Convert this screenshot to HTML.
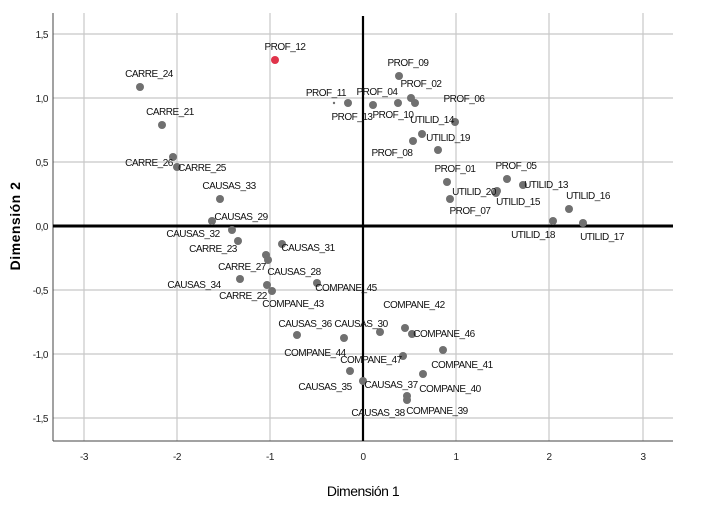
<!DOCTYPE html>
<html><head><meta charset="utf-8"><style>
body{margin:0;background:#fff}
svg text{font-family:"Liberation Sans",sans-serif}
.l{font-size:10px;letter-spacing:-0.5px;fill:#111;text-anchor:middle}
.t{font-size:10px;fill:#222;letter-spacing:-0.5px}
</style></head><body>
<svg width="709" height="516" viewBox="0 0 709 516" xmlns="http://www.w3.org/2000/svg">
<g stroke="#c8c8c8" stroke-width="1.2">
<line x1="84" y1="13" x2="84" y2="441"/><line x1="177" y1="13" x2="177" y2="441"/><line x1="270" y1="13" x2="270" y2="441"/>
<line x1="456" y1="13" x2="456" y2="441"/><line x1="549" y1="13" x2="549" y2="441"/><line x1="643" y1="13" x2="643" y2="441"/>
<line x1="53" y1="34" x2="673" y2="34"/><line x1="53" y1="98" x2="673" y2="98"/><line x1="53" y1="162" x2="673" y2="162"/>
<line x1="53" y1="290" x2="673" y2="290"/><line x1="53" y1="354" x2="673" y2="354"/><line x1="53" y1="418" x2="673" y2="418"/>
</g>
<line x1="53" y1="13" x2="53" y2="441" stroke="#444" stroke-width="1"/>
<line x1="53" y1="441" x2="673" y2="441" stroke="#444" stroke-width="1"/>
<line x1="53" y1="226" x2="673" y2="226" stroke="#000" stroke-width="3"/>
<line x1="363" y1="16" x2="363" y2="441" stroke="#000" stroke-width="2.2"/>
<g class="t" text-anchor="end">
<text x="48" y="38">1,5</text><text x="48" y="102">1,0</text><text x="48" y="166">0,5</text><text x="48" y="230">0,0</text>
<text x="48" y="294">-0,5</text><text x="48" y="358">-1,0</text><text x="48" y="422">-1,5</text>
</g>
<g class="t" text-anchor="middle">
<text x="84" y="460">-3</text><text x="177" y="460">-2</text><text x="270" y="460">-1</text><text x="363" y="460">0</text>
<text x="456" y="460">1</text><text x="549" y="460">2</text><text x="643" y="460">3</text>
</g>
<text x="363" y="496" text-anchor="middle" style="font-size:14px;letter-spacing:-0.5px">Dimensión 1</text>
<text transform="translate(20,226) rotate(-90)" text-anchor="middle" style="font-size:14px;font-weight:bold;letter-spacing:0.5px">Dimensión 2</text>
<g fill="#707070">
<circle cx="140" cy="87" r="4"/><circle cx="162" cy="125" r="4"/><circle cx="173" cy="157" r="4"/><circle cx="177" cy="167" r="4"/>
<circle cx="220" cy="199" r="4"/><circle cx="212" cy="221" r="4"/><circle cx="232" cy="230" r="4"/><circle cx="238" cy="241" r="4"/>
<circle cx="282" cy="244" r="4"/><circle cx="266" cy="255" r="4"/><circle cx="268" cy="260" r="4"/><circle cx="240" cy="279" r="4"/>
<circle cx="267" cy="285" r="4"/><circle cx="272" cy="291" r="4"/><circle cx="317" cy="283" r="4"/><circle cx="297" cy="335" r="4"/>
<circle cx="344" cy="338" r="4"/><circle cx="380" cy="332" r="4"/><circle cx="405" cy="328" r="4"/><circle cx="412" cy="334" r="4"/>
<circle cx="443" cy="350" r="4"/><circle cx="403" cy="356" r="4"/><circle cx="350" cy="371" r="4"/><circle cx="363" cy="381" r="4"/>
<circle cx="423" cy="374" r="4"/><circle cx="407" cy="396" r="4"/><circle cx="407" cy="400" r="4"/>
<circle cx="348" cy="103" r="4"/><circle cx="334" cy="103" r="1.2"/><circle cx="399" cy="76" r="4"/><circle cx="411" cy="98" r="4"/><circle cx="415" cy="103" r="4"/>
<circle cx="373" cy="105" r="4"/><circle cx="398" cy="103" r="4"/><circle cx="455" cy="122" r="4"/><circle cx="422" cy="134" r="4"/>
<circle cx="413" cy="141" r="4"/><circle cx="438" cy="150" r="4"/><circle cx="447" cy="182" r="4"/><circle cx="507" cy="179" r="4"/>
<circle cx="523" cy="185" r="4"/><circle cx="497" cy="191" r="4"/><circle cx="496" cy="193" r="4"/><circle cx="450" cy="199" r="4"/>
<circle cx="569" cy="209" r="4"/><circle cx="553" cy="221" r="4"/><circle cx="583" cy="223" r="4"/>
</g>
<circle cx="275" cy="60" r="4" fill="#e0334a"/>
<g class="l">
<text x="285" y="50">PROF_12</text><text x="149" y="77">CARRE_24</text><text x="170" y="115">CARRE_21</text>
<text x="149" y="166">CARRE_26</text><text x="202" y="171">CARRE_25</text><text x="229" y="189">CAUSAS_33</text>
<text x="241" y="220">CAUSAS_29</text><text x="193" y="237">CAUSAS_32</text><text x="213" y="252">CARRE_23</text>
<text x="308" y="251">CAUSAS_31</text><text x="242" y="270">CARRE_27</text><text x="294" y="275">CAUSAS_28</text>
<text x="194" y="288">CAUSAS_34</text><text x="243" y="299">CARRE_22</text><text x="346" y="291">COMPANE_45</text>
<text x="293" y="307">COMPANE_43</text><text x="414" y="308">COMPANE_42</text><text x="305" y="327">CAUSAS_36</text>
<text x="361" y="327">CAUSAS_30</text><text x="444" y="337">COMPANE_46</text><text x="315" y="356">COMPANE_44</text>
<text x="371" y="363">COMPANE_47</text><text x="462" y="368">COMPANE_41</text><text x="325" y="390">CAUSAS_35</text>
<text x="391" y="388">CAUSAS_37</text><text x="450" y="392">COMPANE_40</text><text x="378" y="416">CAUSAS_38</text>
<text x="437" y="414">COMPANE_39</text>
<text x="326" y="96">PROF_11</text><text x="352" y="120">PROF_13</text><text x="408" y="66">PROF_09</text>
<text x="421" y="87">PROF_02</text><text x="377" y="95">PROF_04</text><text x="393" y="118">PROF_10</text>
<text x="464" y="102">PROF_06</text><text x="432" y="123">UTILID_14</text><text x="448" y="141">UTILID_19</text>
<text x="392" y="156">PROF_08</text><text x="455" y="172">PROF_01</text><text x="516" y="169">PROF_05</text>
<text x="546" y="188">UTILID_13</text><text x="474" y="195">UTILID_20</text><text x="518" y="205">UTILID_15</text>
<text x="470" y="214">PROF_07</text><text x="588" y="199">UTILID_16</text><text x="533" y="238">UTILID_18</text>
<text x="602" y="240">UTILID_17</text>
</g>
</svg>
</body></html>
